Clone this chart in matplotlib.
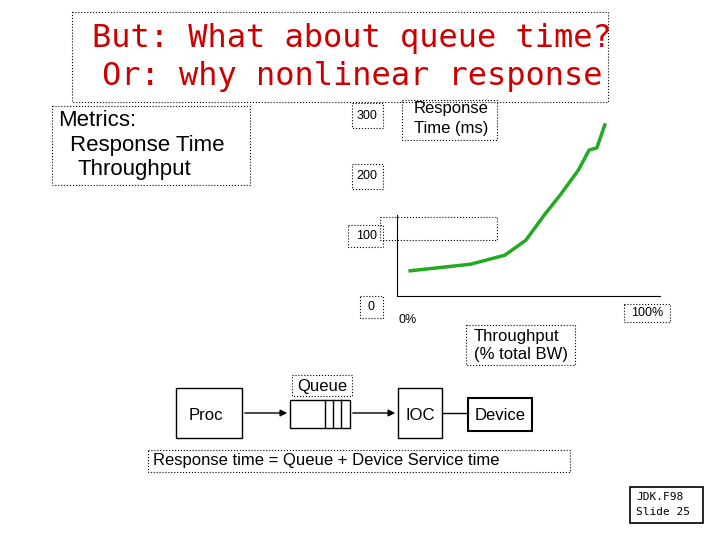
import matplotlib
matplotlib.use("Agg")
import matplotlib.pyplot as plt
from matplotlib.patches import Rectangle

plt.rcParams['font.family'] = ['Liberation Sans', 'DejaVu Sans']

throughput_pct = [5, 28, 41, 49, 56, 62, 69, 73, 76, 79]
response_ms = [42, 53, 68, 93, 135, 168, 210, 243, 247, 285]
ytick_vals = [0, 100, 200, 300]
ytick_px = [307, 236, 176, 116]

fig = plt.figure(figsize=(7.2, 5.4), dpi=100)
bg = fig.add_axes([0, 0, 1, 1])
bg.set_xlim(0, 720); bg.set_ylim(540, 0); bg.axis("off")

def box(x0, y0, x1, y1, lw=0.8, ls=":"):
    bg.add_patch(Rectangle((x0, y0), x1 - x0, y1 - y0, fill=False, lw=lw, ls=ls, ec="black"))

box(72, 12, 608, 102)
bg.text(352, 38, "But: What about queue time?", color="#cc0000", fontsize=23, ha="center", va="center", family="DejaVu Sans Mono")
bg.text(352, 76, "Or: why nonlinear response", color="#cc0000", fontsize=23, ha="center", va="center", family="DejaVu Sans Mono")

box(52, 106, 250, 185)
bg.text(58, 121, "Metrics:", fontsize=16, va="center")
bg.text(70, 145, "Response Time", fontsize=16, va="center")
bg.text(78, 169, "Throughput", fontsize=16, va="center")

for v, py in zip(ytick_vals, ytick_px):
    bg.text(371 if v == 0 else 367, py, str(v), fontsize=9, ha="center", va="center")
box(352, 103, 383, 128); box(352, 164, 383, 189); box(348, 225, 383, 247); box(360, 296, 383, 318)
box(380, 217, 497, 240)
box(402, 100, 497, 140)
bg.text(451, 109, "Response", fontsize=12, ha="center", va="center")
bg.text(451, 128, "Time (ms)", fontsize=12, ha="center", va="center")
bg.text(408, 320, "0%", fontsize=9, ha="center", va="center")
box(624, 304, 670, 322)
bg.text(647, 313, "100%", fontsize=9, ha="center", va="center")
box(466, 325, 575, 365)
bg.text(516, 336, "Throughput", fontsize=12, ha="center", va="center")
bg.text(521, 355, "(% total BW)", fontsize=12, ha="center", va="center")

box(292, 375, 352, 396)
bg.text(322, 386, "Queue", fontsize=12, ha="center", va="center")
box(176, 388, 242, 438, lw=1, ls="-")
bg.text(206, 415, "Proc", fontsize=12, ha="center", va="center")
bg.annotate("", xy=(290, 413), xytext=(242, 413), arrowprops=dict(arrowstyle="-|>", lw=1, color="black"))
box(290, 400, 350, 428, lw=1, ls="-")
for xv in (325, 333, 341):
    bg.plot([xv, xv], [400, 428], color="black", lw=1)
bg.annotate("", xy=(398, 413), xytext=(350, 413), arrowprops=dict(arrowstyle="-|>", lw=1, color="black"))
box(398, 388, 442, 438, lw=1, ls="-")
bg.text(420, 415, "IOC", fontsize=12, ha="center", va="center")
bg.plot([442, 468], [413, 413], color="black", lw=1)
bg.add_patch(Rectangle((468, 398), 64, 33, fill=False, lw=1.5, ec="black"))
bg.text(500, 415, "Device", fontsize=12, ha="center", va="center")
box(148, 450, 570, 472)
bg.text(153, 461, "Response time = Queue + Device Service time", fontsize=12, va="center")
box(630, 487, 703, 523, lw=1.2, ls="-")
bg.text(636, 497, "JDK.F98", fontsize=8, va="center", family="DejaVu Sans Mono")
bg.text(636, 512, "Slide 25", fontsize=8, va="center", family="DejaVu Sans Mono")

ax = fig.add_axes([397 / 720, (540 - 296) / 540, 263 / 720, 198 / 540])
ax.set_xlim(0, 100); ax.set_ylim(0, 330)
ax.patch.set_alpha(0)
ax.plot(throughput_pct, response_ms, color="#22aa22", lw=2.5)
for s in ("top", "right"):
    ax.spines[s].set_visible(False)
ax.spines["left"].set_bounds(0, 135)
ax.set_xticks([]); ax.set_yticks([])

fig.savefig("out.png", dpi=100)
